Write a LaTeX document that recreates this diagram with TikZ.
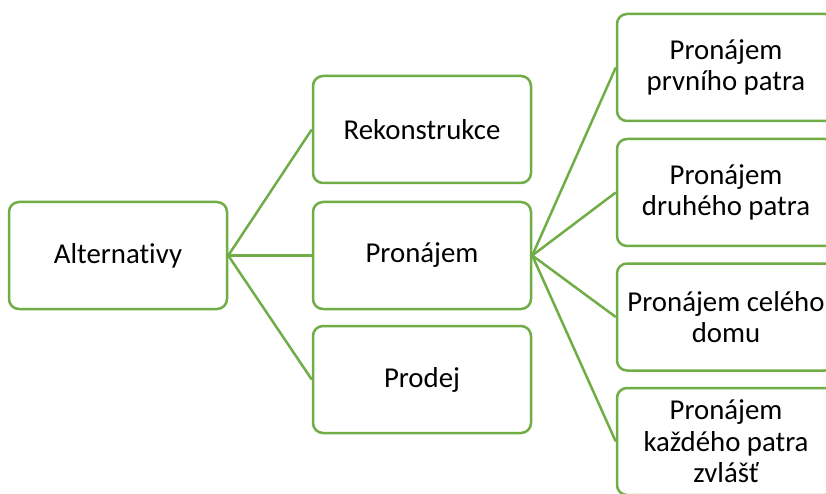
\documentclass[tikz,border=0pt]{standalone}
\usepackage{fontspec}
\setmainfont{Carlito}[Ligatures=NoCommon]
\definecolor{boxgreen}{RGB}{112,173,71}
\begin{document}
\begin{tikzpicture}[x=1pt,y=1pt,
  box/.style={draw=boxgreen, line width=2.5pt, rounded corners=10pt, fill=white,
    minimum width=218pt, minimum height=107pt, align=center, inner sep=0pt,
    font=\fontsize{28.8}{31.5}\selectfont, text=black},
  conn/.style={draw=boxgreen, line width=2.5pt}]
\path[use as bounding box, clip] (0,0) rectangle (826,493);
\node[box] (alt) at (118,237.5) {Alternativy};
\node[box] (rek) at (422,363.5) {Rekonstrukce};
\node[box] (pro) at (422,237.5) {Pronájem};
\node[box] (pdj) at (422,113.5) {Prodej};
\node[box] (r1) at (726,425.5) {Pronájem\\prvního patra};
\node[box] (r2) at (726,300.5) {Pronájem\\druhého patra};
\node[box] (r3) at (726,176) {Pronájem celého\\domu};
\node[box] (r4) at (726,51.5) {Pronájem\\každého patra\\zvlášť};
\draw[conn] (alt.east) -- (rek.west);
\draw[conn] (alt.east) -- (pro.west);
\draw[conn] (alt.east) -- (pdj.west);
\draw[conn] (pro.east) -- (r1.west);
\draw[conn] (pro.east) -- (r2.west);
\draw[conn] (pro.east) -- (r3.west);
\draw[conn] (pro.east) -- (r4.west);
\end{tikzpicture}
\end{document}
